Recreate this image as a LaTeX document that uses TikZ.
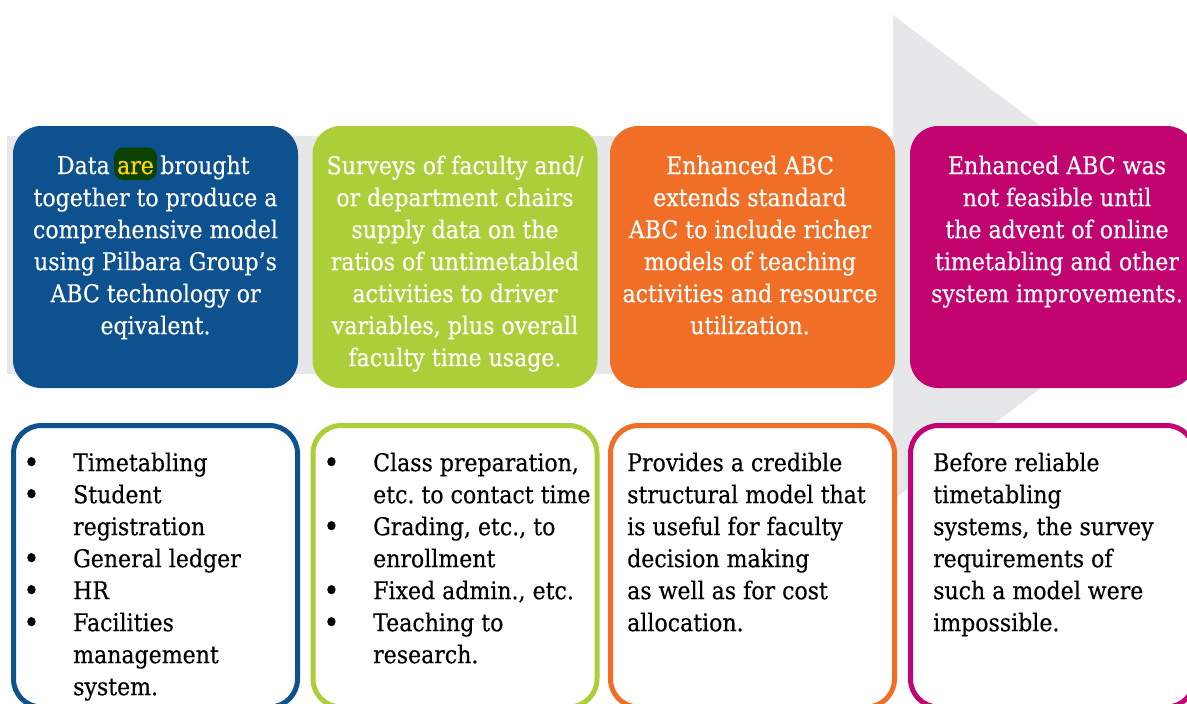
\documentclass[tikz,border=0pt]{standalone}
\usepackage{fontspec}
\setmainfont{DejaVu Serif}[FakeStretch=0.9,FakeBold=0.3]
\frenchspacing
\definecolor{cblue}{RGB}{14,81,143}
\definecolor{cgreen}{RGB}{172,206,56}
\definecolor{corange}{RGB}{240,110,38}
\definecolor{cmag}{RGB}{194,4,112}
\definecolor{cgray}{RGB}{230,231,232}
\definecolor{hlgreen}{RGB}{12,66,0}
\definecolor{hlyellow}{RGB}{255,214,0}
\newcommand\bodyfs{\fontsize{24.5}{32}\selectfont}
\newcommand\bul{\makebox[50pt][l]{\raisebox{-2pt}{\fontsize{31}{32}\selectfont\textbullet}}}
\newcommand\contind{\hspace*{50pt}}
\tikzset{
  topbox/.style={rounded corners=28pt, minimum width=285pt, minimum height=262pt, inner sep=0pt, draw=none},
  lowbox/.style={rounded corners=28pt, draw=#1, line width=5pt, fill=white, minimum width=284pt, minimum height=281.5pt, inner sep=0pt},
  toptext/.style={text=white, align=center, anchor=north, inner sep=0pt, font=\bodyfs},
  lowtext/.style={text=black, align=left, anchor=north west, inner sep=0pt, font=\bodyfs},
  wordnode/.style={text=white, inner sep=0pt, font=\bodyfs},
}
\begin{document}
\begin{tikzpicture}[x=1pt,y=-1pt]
\useasboundingbox (0,0) rectangle (1187,704);
\clip (0,0) rectangle (1187,704);
\fill[white] (0,0) rectangle (1187,704);
% big gray arrow
\fill[cgray] (7,136) -- (893,136) -- (893,15) -- (1214,257) -- (893,500) -- (893,374) -- (7,374) -- cycle;
% top boxes
\node[topbox, fill=cblue]   (t1) at (155.5,257) {};
\node[topbox, fill=cgreen]  (t2) at (455,257) {};
\node[topbox, fill=corange] (t3) at (752.5,257) {};
\node[topbox, fill=cmag]    (t4) at (1052.5,257) {};
% lower boxes
\node[lowbox=cblue]   (b1) at (155.5,566.25) {};
\node[lowbox=cgreen]  (b2) at (455,566.25) {};
\node[lowbox=corange] (b3) at (752.5,566.25) {};
\node[lowbox=cmag]    (b4) at (1052.5,566.25) {};
% box 1 top text
\node[wordnode, anchor=base, fill=hlgreen, text=hlyellow, rounded corners=9pt,
      text height=25pt, text depth=4.5pt, inner xsep=3pt, inner ysep=1.5pt] (are) at (135.5,174) {are};
\node[wordnode, anchor=base east] (data) at ([xshift=-4pt]are.base west) {Data};
\node[wordnode, anchor=base west] (brought) at ([xshift=3pt]are.base east) {brought};
\node[toptext] (t1text) at (155.5,183.6) {\strut together to produce a\\comprehensive model\\using Pilbara Group’s\\ABC technology or\\eqivalent.};
\node[toptext] (t2text) at (455,151.6) {\strut Surveys of faculty and/\\or department chairs\\supply data on the\\ratios of untimetabled\\activities to driver\\variables, plus overall\\faculty time usage.};
\node[toptext] (t3text) at (750,151.6) {\strut Enhanced ABC\\extends standard\\ABC to include richer\\models of teaching\\activities and resource\\utilization.};
\node[toptext] (t4text) at (1057,151.6) {\strut Enhanced ABC was\\not feasible until\\the advent of online\\timetabling and other\\system improvements.};
% lower texts
\node[lowtext] (b1text) at (23,448.6) {\strut\bul Timetabling\\\bul Student\\\contind registration\\\bul General ledger\\\bul HR\\\bul Facilities\\\contind management\\\contind system.};
\node[lowtext] (b2text) at (323,448.6) {\strut\bul Class preparation,\\\contind etc. to contact time\\\bul Grading, etc., to\\\contind enrollment\\\bul Fixed admin., etc.\\\bul Teaching to\\\contind research.};
\node[lowtext] (b3text) at (627,448.6) {\strut Provides a credible\\structural model that\\is useful for faculty\\decision making\\as well as for cost\\allocation.};
\node[lowtext] (b4text) at (933,448.6) {\strut Before reliable\\timetabling\\systems, the survey\\requirements of\\such a model were\\impossible.};
\end{tikzpicture}
\end{document}
